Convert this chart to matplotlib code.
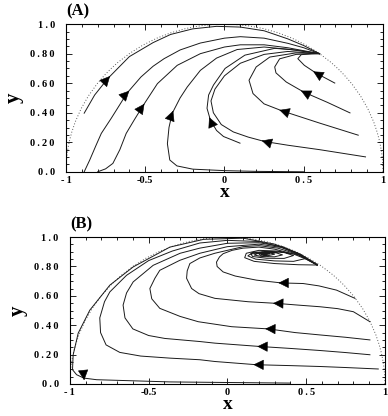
import matplotlib
matplotlib.use("Agg")
import matplotlib.pyplot as plt
from matplotlib.patches import Arc
from matplotlib.ticker import MultipleLocator

plt.rcParams['font.family'] = ['Liberation Serif', 'DejaVu Serif']

# ---- panel A trajectories, flow runs along the list
a1 = [(-0.885, 0.397), (-0.819, 0.52), (-0.735, 0.633), (-0.6, 0.78), (-0.45, 0.875),
      (-0.34, 0.93), (-0.2, 0.968), (-0.05, 0.985), (0.1, 0.98), (0.25, 0.955),
      (0.4, 0.9), (0.5, 0.855), (0.6, 0.8)]
a2 = [(-0.885, 0.0), (-0.85, 0.08), (-0.81, 0.18), (-0.777, 0.26), (-0.714, 0.363),
      (-0.614, 0.534), (-0.527, 0.642), (-0.45, 0.715), (-0.381, 0.766), (-0.28, 0.825),
      (-0.152, 0.872), (0.0, 0.905), (0.1, 0.915), (0.25, 0.905), (0.4, 0.87),
      (0.5, 0.84), (0.6, 0.8)]
a3 = [(-0.8, 0.0), (-0.75, 0.02), (-0.704, 0.057), (-0.66, 0.15), (-0.62, 0.26),
      (-0.57, 0.35), (-0.516, 0.444), (-0.423, 0.597), (-0.298, 0.721), (-0.152, 0.80),
      (0.0, 0.845), (0.1, 0.86), (0.25, 0.86), (0.4, 0.84), (0.5, 0.82), (0.6, 0.8)]
a4 = [(0.5, 0.0), (0.2, 0.003), (0.0, 0.008), (-0.2, 0.018), (-0.3, 0.04),
      (-0.345, 0.08), (-0.36, 0.19), (-0.35, 0.3), (-0.33, 0.395), (-0.28, 0.5),
      (-0.235, 0.574), (-0.152, 0.687), (-0.05, 0.77), (0.08, 0.828), (0.25, 0.845),
      (0.4, 0.83), (0.5, 0.815), (0.6, 0.8)]
a5 = [(0.098, 0.194), (0.05, 0.215), (-0.006, 0.239), (-0.05, 0.28), (-0.089, 0.351),
      (-0.11, 0.43), (-0.1, 0.52), (-0.069, 0.588), (0.004, 0.70), (0.129, 0.79),
      (0.317, 0.836), (0.45, 0.825), (0.6, 0.8)]
a6 = [(0.89, 0.101), (0.6, 0.15), (0.4, 0.18), (0.254, 0.205), (0.15, 0.235),
      (0.056, 0.27), (-0.02, 0.32), (-0.07, 0.4), (-0.085, 0.48), (-0.06, 0.56),
      (0.0, 0.65), (0.1, 0.735), (0.25, 0.795), (0.4, 0.815), (0.6, 0.8)]
a7 = [(0.844, 0.248), (0.6, 0.33), (0.365, 0.412), (0.25, 0.46), (0.18, 0.53),
      (0.155, 0.62), (0.2, 0.71), (0.286, 0.777), (0.45, 0.805), (0.6, 0.8)]
a8 = [(0.792, 0.399), (0.65, 0.47), (0.5, 0.54), (0.39, 0.608), (0.325, 0.67),
      (0.317, 0.71), (0.348, 0.765), (0.452, 0.795), (0.6, 0.8)]
a9 = [(0.696, 0.601), (0.577, 0.669), (0.504, 0.721), (0.463, 0.766), (0.484, 0.793),
      (0.55, 0.8), (0.6, 0.8)]
curves_a = [a1, a2, a3, a4, a5, a6, a7, a8, a9]

# arrow heads: x, y, direction dx, dy
arrows_a = [(-0.735, 0.633, 0.22, 0.26), (-0.614, 0.534, 0.19, 0.21),
            (-0.516, 0.444, 0.19, 0.29), (-0.33, 0.395, 0.07, 0.2),
            (-0.089, 0.351, -0.06, 0.15), (0.254, 0.205, -0.2, 0.065),
            (0.365, 0.412, -0.235, 0.082), (0.5, 0.54, -0.26, 0.14),
            (0.577, 0.669, -0.19, 0.12)]

# ---- panel B trajectories
b1 = [(0.57, 0.815), (0.45, 0.89), (0.3, 0.952), (0.1, 0.993), (-0.15, 0.985),
      (-0.365, 0.932), (-0.598, 0.797), (-0.746, 0.673), (-0.873, 0.503),
      (-0.947, 0.346), (-0.979, 0.198), (-0.983, 0.097), (-0.957, 0.063),
      (-0.911, 0.04), (-0.83, 0.029), (-0.365, 0.014), (0.0, 0.01), (0.4, 0.006)]
c1 = [(0.81, 0.583), (0.693, 0.639), (0.581, 0.668), (0.481, 0.684), (0.344, 0.688),
      (0.185, 0.707), (0.05, 0.735), (-0.027, 0.763), (-0.065, 0.8), (-0.069, 0.83),
      (-0.05, 0.865), (-0.027, 0.887), (0.03, 0.91), (0.1, 0.925), (0.2, 0.932),
      (0.3, 0.918), (0.42, 0.885), (0.5, 0.85), (0.57, 0.81)]
c2 = [(0.905, 0.424), (0.8, 0.492), (0.7, 0.513), (0.587, 0.526), (0.45, 0.537),
      (0.31, 0.549), (0.132, 0.56), (-0.079, 0.583), (-0.18, 0.615), (-0.227, 0.65),
      (-0.259, 0.72), (-0.255, 0.77), (-0.238, 0.82), (-0.175, 0.858), (-0.08, 0.89),
      (0.0, 0.91), (0.1, 0.935), (0.2, 0.942), (0.32, 0.925), (0.44, 0.885), (0.57, 0.81)]
c3 = [(0.905, 0.30), (0.75, 0.318), (0.587, 0.334), (0.43, 0.35), (0.26, 0.375),
      (0.027, 0.39), (-0.185, 0.424), (-0.3, 0.46), (-0.429, 0.515), (-0.48, 0.58),
      (-0.492, 0.65), (-0.46, 0.72), (-0.429, 0.774), (-0.302, 0.842), (-0.175, 0.89),
      (0.0, 0.935), (0.2, 0.952), (0.34, 0.93), (0.46, 0.88), (0.57, 0.81)]
c4 = [(0.905, 0.199), (0.75, 0.214), (0.587, 0.228), (0.4, 0.242), (0.21, 0.255),
      (-0.079, 0.278), (-0.175, 0.289), (-0.397, 0.31), (-0.5, 0.33), (-0.6, 0.375),
      (-0.65, 0.45), (-0.662, 0.537), (-0.64, 0.62), (-0.598, 0.695), (-0.471, 0.808),
      (-0.3, 0.89), (-0.175, 0.925), (0.0, 0.958), (0.2, 0.962), (0.35, 0.935),
      (0.47, 0.88), (0.57, 0.81)]
c5 = [(0.958, 0.102), (0.75, 0.112), (0.587, 0.119), (0.4, 0.125), (0.185, 0.131),
      (-0.079, 0.153), (-0.175, 0.165), (-0.365, 0.176), (-0.55, 0.19), (-0.683, 0.215),
      (-0.77, 0.266), (-0.805, 0.35), (-0.81, 0.45), (-0.78, 0.56), (-0.746, 0.627),
      (-0.64, 0.74), (-0.5, 0.84), (-0.35, 0.905), (-0.175, 0.96), (0.0, 0.978),
      (0.2, 0.97), (0.35, 0.93), (0.47, 0.875), (0.57, 0.81)]
spiral = [(0.57, 0.81), (0.45, 0.812), (0.3, 0.82), (0.17, 0.835), (0.11, 0.86),
          (0.12, 0.89), (0.2, 0.91), (0.32, 0.905), (0.45, 0.88), (0.5, 0.855),
          (0.42, 0.835), (0.3, 0.838), (0.18, 0.85), (0.13, 0.872), (0.16, 0.895),
          (0.25, 0.902), (0.36, 0.895), (0.42, 0.875), (0.36, 0.855), (0.25, 0.856),
          (0.16, 0.868), (0.15, 0.885), (0.22, 0.897), (0.31, 0.893), (0.35, 0.879),
          (0.3, 0.866), (0.22, 0.868), (0.17, 0.878), (0.2, 0.892), (0.27, 0.893),
          (0.3, 0.884), (0.26, 0.874), (0.21, 0.877), (0.2, 0.886), (0.24, 0.891),
          (0.27, 0.886), (0.24, 0.879), (0.215, 0.883), (0.225, 0.889), (0.245, 0.886),
          (0.23, 0.882), (0.222, 0.886)]
curves_b = [b1, c1, c2, c3, c4, c5, spiral]

arrows_b = [(-0.911, 0.045, 0.02, -0.2), (0.344, 0.688, -0.2, 0.0),
            (0.31, 0.549, -0.2, 0.006), (0.26, 0.375, -0.2, 0.006),
            (0.21, 0.255, -0.2, 0.004), (0.185, 0.131, -0.2, 0.004)]

xticks = [-1, -0.5, 0, 0.5, 1]
xticklabels = ['-\u20091', '-0.5', '0', '0\u2009.\u20095', '1']
yticks = [0.0, 0.2, 0.4, 0.6, 0.8, 1.0]
yticklabels = ['0\u2009.\u20090', '0\u2009.\u20092\u20090', '0\u2009.\u20094\u20090',
               '0\u2009.\u20096\u20090', '0\u2009.\u20098\u20090', '1\u2009.\u20090']

fig = plt.figure(figsize=(3.88, 4.16), dpi=100)
ax_a = fig.add_axes([0.170, 0.587, 0.817, 0.355])
ax_b = fig.add_axes([0.180, 0.077, 0.812, 0.353])


def draw_panel(ax, curves, arrows, label):
    ax.add_patch(Arc((0, 0), 2, 2, theta1=0, theta2=180, ls=(0, (1, 2)),
                     lw=0.7, color='0.35'))
    for c in curves:
        xs = [p[0] for p in c]
        ys = [p[1] for p in c]
        ax.plot(xs, ys, color='0.1', lw=0.7)
    for x, y, dx, dy in arrows:
        k = 0.02 / (dx * dx + dy * dy) ** 0.5
        ax.annotate('', xy=(x + dx * k, y + dy * k), xytext=(x - dx * k, y - dy * k),
                    arrowprops=dict(arrowstyle='-|>,head_length=0.9,head_width=0.45',
                                    color='black', lw=0.4, shrinkA=0, shrinkB=0,
                                    mutation_scale=7.5))
    ax.set_xlim(-1, 1)
    ax.set_ylim(0, 1)
    ax.set_xticks(xticks)
    ax.set_xticklabels(xticklabels)
    ax.set_yticks(yticks)
    ax.set_yticklabels(yticklabels)
    ax.xaxis.set_minor_locator(MultipleLocator(0.1))
    ax.yaxis.set_minor_locator(MultipleLocator(0.05))
    ax.tick_params(which='both', direction='in', top=True, right=True,
                   labelsize=7.5, width=0.6)
    ax.tick_params(which='major', length=4)
    ax.tick_params(axis='y', which='major', pad=8)
    ax.tick_params(axis='x', which='major', pad=3)
    ax.tick_params(which='minor', length=2)
    for t in ax.get_xticklabels() + ax.get_yticklabels():
        t.set_fontweight('bold')
    for s in ax.spines.values():
        s.set_linewidth(0.8)
    ax.set_xlabel('x', fontsize=14, fontweight='bold', labelpad=-1)
    ax.set_ylabel('y', fontsize=15, fontweight='bold', labelpad=5)
    ax.text(0.0, 1.03, label, transform=ax.transAxes, fontsize=12,
            fontweight='bold', ha='left', va='bottom')


draw_panel(ax_a, curves_a, arrows_a, '(A)')
draw_panel(ax_b, curves_b, arrows_b, '(B)')

fig.savefig('out.png', dpi=100)
